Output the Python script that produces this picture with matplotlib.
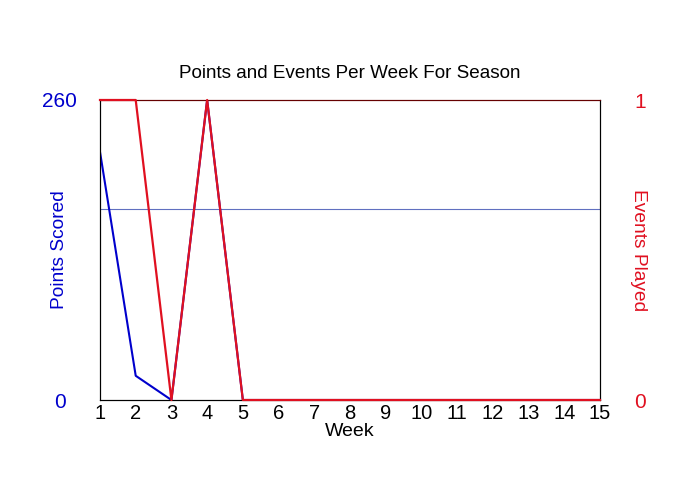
import matplotlib
matplotlib.use("Agg")
import matplotlib.pyplot as plt

plt.rcParams['font.family'] = ['Liberation Sans', 'DejaVu Sans']

# data
weeks = list(range(1, 16))
points = [215, 21, 0, 260, 0, 0, 0, 0, 0, 0, 0, 0, 0, 0, 0]
events = [1, 1, 0, 1, 0, 0, 0, 0, 0, 0, 0, 0, 0, 0, 0]

# average points per event played
played = [p for p, e in zip(points, events) if e > 0]
avg_points = sum(played) / len(played)

blue = '#0000cc'
red = '#e01020'

fig = plt.figure(figsize=(7, 5), dpi=100)
ax = fig.add_axes([100 / 700, 0.2, 500 / 700, 0.6])
ax2 = ax.twinx()

ax.axhline(avg_points, color='#6070c0', linewidth=0.8, zorder=1)
ax.plot(weeks, points, color=blue, linewidth=1.5, zorder=2)
ax2.plot(weeks, events, color=red, linewidth=1.6, clip_on=False, zorder=3)

ax.set_xlim(1, 15)
ax.set_ylim(0, 260)
ax2.set_ylim(0, 1)

ax.set_xticks(weeks)
ax.set_yticks([0, 260])
ax2.set_yticks([0, 1])

ax.tick_params(axis='x', length=0, pad=3, labelsize=14.5)
ax.tick_params(axis='y', length=0, pad=29, labelsize=15, labelcolor=blue)
ax2.tick_params(axis='y', length=0, pad=29, labelsize=15, labelcolor=red)
for lbl in ax.get_yticklabels():
    lbl.set_horizontalalignment('center')
for lbl in ax2.get_yticklabels():
    lbl.set_horizontalalignment('center')

ax.set_xlabel('Week', fontsize=14, labelpad=0)
ax.set_ylabel('Points Scored', fontsize=13.8, color=blue, va='center')
ax.yaxis.set_label_coords(-0.081, 0.5)
ax2.set_ylabel('Events Played', fontsize=13.8, color=red, rotation=270, va='center')
ax2.yaxis.set_label_coords(1.077, 0.5)

ax.set_title('Points and Events Per Week For Season', fontsize=13.6, pad=16)

for a in (ax, ax2):
    a.spines['top'].set_color('#660000')
    a.spines['left'].set_color('black')
    a.spines['right'].set_color('black')
    a.spines['bottom'].set_color('black')

fig.savefig('out.png', dpi=100)
